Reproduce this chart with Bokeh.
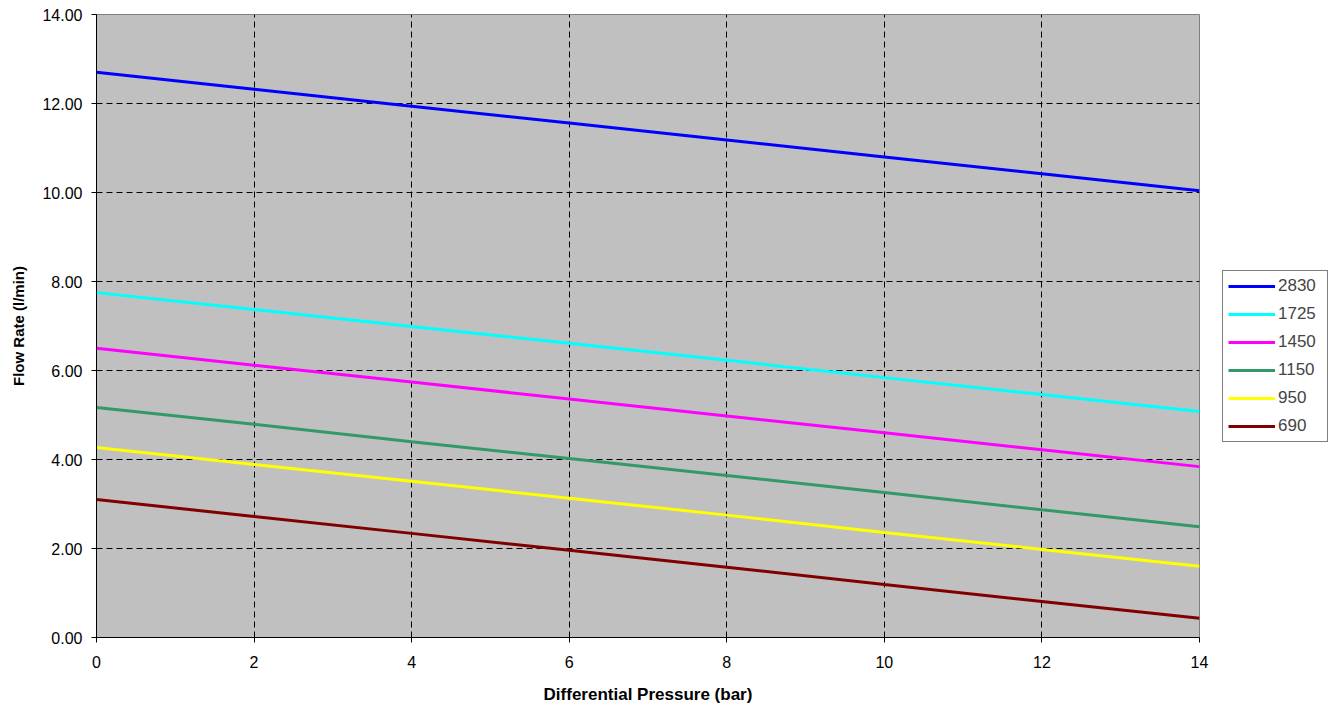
from bokeh.plotting import figure
from bokeh.models import Legend, LegendItem, Range1d, FixedTicker, NumeralTickFormatter
from bokeh.embed import file_html
from bokeh.resources import INLINE

pressure = [0, 2, 4, 6, 8, 10, 12, 14]
s2830 = [12.70, 12.32, 11.94, 11.56, 11.18, 10.80, 10.42, 10.04]
s1725 = [7.75, 7.37, 6.99, 6.61, 6.23, 5.84, 5.46, 5.08]
s1450 = [6.50, 6.12, 5.74, 5.36, 4.98, 4.60, 4.22, 3.84]
s1150 = [5.17, 4.79, 4.40, 4.02, 3.64, 3.26, 2.87, 2.49]
s950 = [4.27, 3.89, 3.51, 3.13, 2.75, 2.36, 1.98, 1.60]
s690 = [3.10, 2.72, 2.34, 1.96, 1.58, 1.19, 0.81, 0.43]
labels = ["2830", "1725", "1450", "1150", "950", "690"]
colors = ["#0000FF", "#00FFFF", "#FF00FF", "#339966", "#FFFF00", "#800000"]
series = [s2830, s1725, s1450, s1150, s950, s690]

FONT = "Liberation Sans"

p = figure(frame_width=1103, frame_height=623, output_backend="svg", toolbar_location=None,
           x_range=Range1d(0, 14), y_range=Range1d(0, 14),
           min_border_left=96, min_border_top=14, min_border_right=131, min_border_bottom=65)
p.background_fill_color = "#C0C0C0"
p.border_fill_color = "white"
p.outline_line_color = "#808080"
p.outline_line_width = 1

items = []
for lab, col, ys in zip(labels, colors, series):
    r = p.line(pressure, ys, line_color=col, line_width=3)
    items.append(LegendItem(label=lab, renderers=[r]))

p.xaxis.ticker = FixedTicker(ticks=[0, 2, 4, 6, 8, 10, 12, 14])
p.yaxis.ticker = FixedTicker(ticks=[0, 2, 4, 6, 8, 10, 12, 14])
p.yaxis.formatter = NumeralTickFormatter(format="0.00")

for ax in (p.xaxis, p.yaxis):
    ax.axis_line_color = "black"
    ax.axis_line_width = 1
    ax.major_tick_line_color = "black"
    ax.major_tick_out = 5
    ax.major_tick_in = 0
    ax.minor_tick_line_color = None
    ax.major_label_text_font = FONT
    ax.major_label_text_font_size = "16px"
    ax.major_label_text_color = "black"
    ax.axis_label_text_font = FONT
    ax.axis_label_text_font_style = "bold"
    ax.axis_label_text_color = "black"

p.xaxis.axis_label_text_font_size = "17px"
p.yaxis.axis_label_text_font_size = "15px"
p.xaxis.axis_label = "Differential Pressure (bar)"
p.yaxis.axis_label = "Flow Rate (l/min)"
p.xaxis.major_label_standoff = 13
p.yaxis.major_label_standoff = 9
p.xaxis.axis_label_standoff = 14
p.yaxis.axis_label_standoff = 12

p.grid.grid_line_color = "black"
p.grid.grid_line_dash = "6 4"
p.grid.grid_line_width = 1

legend = Legend(items=items, location=(23, 195))
legend.label_text_font = FONT
legend.label_text_font_size = "17px"
legend.glyph_width = 47
legend.glyph_height = 20
legend.label_standoff = 3
legend.label_width = 44
legend.spacing = 8
legend.padding = 5
legend.margin = 0
legend.border_line_color = "black"
legend.border_line_width = 1
legend.background_fill_color = "white"
legend.background_fill_alpha = 1
legend.label_height = 20
p.add_layout(legend, "right")

open("out.html", "w").write(file_html(p, INLINE))
